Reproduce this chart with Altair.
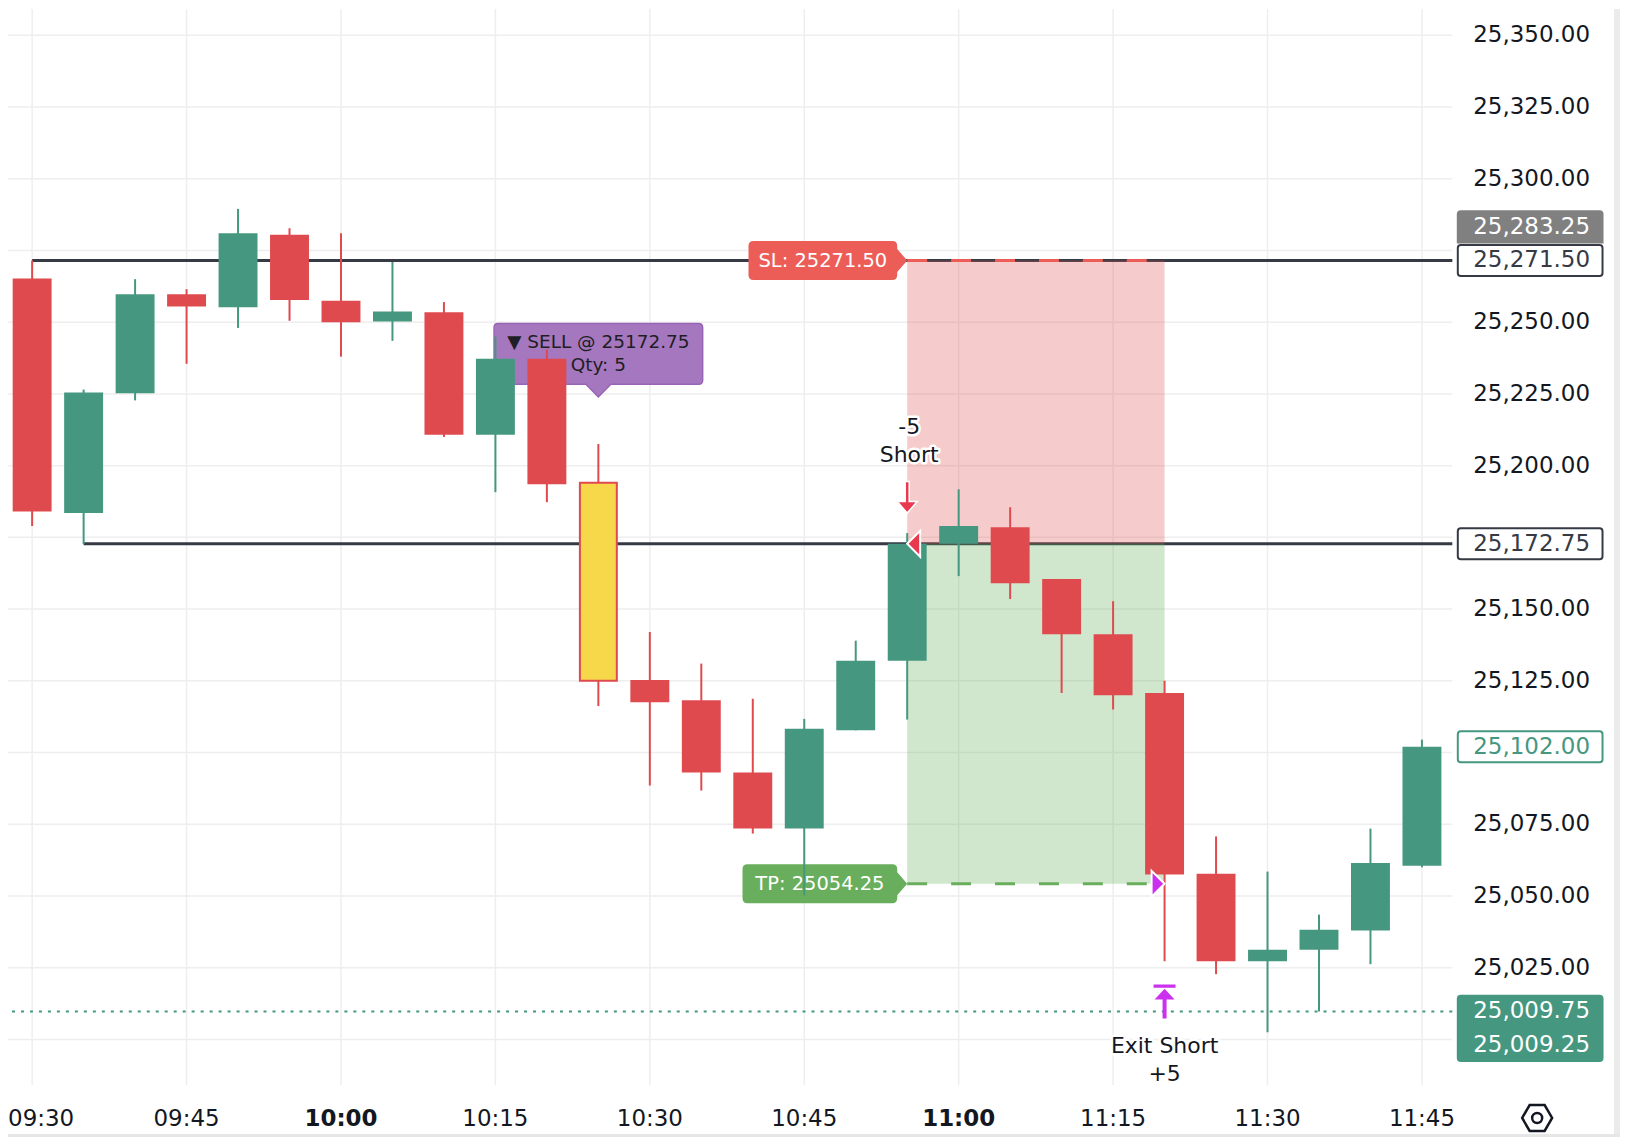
import altair as alt
import pandas as pd

# ---------------- data ----------------
times = ["09:30", "09:35", "09:40", "09:45", "09:50", "09:55", "10:00", "10:05", "10:10", "10:15",
         "10:20", "10:25", "10:30", "10:35", "10:40", "10:45", "10:50", "10:55", "11:00", "11:05",
         "11:10", "11:15", "11:20", "11:25", "11:30", "11:35", "11:40", "11:45"]
opens = [25265.25, 25183.50, 25225.25, 25259.75, 25255.25, 25280.50, 25257.50, 25250.25, 25253.50, 25210.75,
         25237.25, 25194.00, 25125.25, 25118.25, 25093.00, 25073.50, 25107.75, 25132.00, 25172.75, 25178.50,
         25160.50, 25141.25, 25120.75, 25057.75, 25027.25, 25031.25, 25038.00, 25060.50]
highs = [25271.50, 25226.50, 25265.00, 25261.50, 25289.50, 25282.75, 25281.00, 25271.00, 25257.00, 25245.00,
         25240.50, 25207.50, 25142.00, 25131.00, 25118.75, 25111.75, 25139.00, 25176.50, 25191.75, 25185.50,
         25160.50, 25152.75, 25125.00, 25070.75, 25058.50, 25043.50, 25073.50, 25104.50]
lows = [25179.00, 25172.75, 25222.75, 25235.50, 25248.00, 25250.50, 25238.00, 25243.50, 25210.00, 25190.75,
        25187.25, 25116.25, 25088.50, 25086.75, 25071.75, 25050.25, 25107.75, 25111.50, 25161.50, 25153.50,
        25120.75, 25115.00, 25027.25, 25022.75, 25002.50, 25009.75, 25026.25, 25060.00]
closes = [25184.00, 25225.50, 25259.75, 25255.50, 25281.00, 25257.75, 25250.00, 25253.75, 25210.75, 25237.25,
          25193.50, 25125.00, 25117.50, 25093.00, 25073.50, 25108.25, 25132.00, 25172.75, 25179.00, 25159.00,
          25141.25, 25120.00, 25057.50, 25027.25, 25031.25, 25038.25, 25061.50, 25102.00]

highlight_idx = 11          # yellow signal candle
entry_idx = 17              # short entry candle
exit_idx = 22               # exit candle
entry_price = 25172.75
stop_price = 25271.50
target_price = 25054.25
range_high_price = 25271.50  # horizontal level from first candle
range_low_price = 25172.75   # horizontal level from second candle
dotted_price = 25009.75

sell_lines = ["\u25BC SELL @ 25172.75", "Qty: 5"]
sl_text = "SL: 25271.50"
tp_text = "TP: 25054.25"
entry_texts = ["-5", "Short"]
exit_texts = ["Exit Short", "+5"]

# price scale tags
tag_values = [25283.25, 25271.50, 25172.75, 25102.00, 25009.75, 25009.25]
tag_texts = ["25,283.25", "25,271.50", "25,172.75", "25,102.00", "25,009.75", "25,009.25"]

y_ticks = list(range(25000, 25351, 25))
y_hidden = [25275, 25175, 25100, 25000]      # labels covered by the price tags
x_ticks = [i for i, t in enumerate(times) if t[-2:] in ("00", "15", "30", "45")]
x_tick_labels = [times[i] for i in x_ticks]
bold_labels = [t for t in x_tick_labels if t.endswith(":00")]

# ---------------- layout / style ----------------
W, H = 1447, 1078
X_DOMAIN = [-0.469, 27.59]
Y_DOMAIN = [24984.1, 25359.15]

GREEN = "#46977f"
RED = "#df4a4f"
YELLOW = "#f7d84b"
DARK = "#363a45"
TEXT = "#131722"
SL_RED = "#ec5d58"
TP_GREEN = "#68ae5c"
PURPLE = "#a577be"
MAGENTA = "#cb30ef"
ARROW_RED = "#e8394e"
GRID = "#eeeeee"
FONT = "DejaVu Sans"

xs = alt.Scale(domain=X_DOMAIN, nice=False, zero=False, padding=0)
ys = alt.Scale(domain=Y_DOMAIN, nice=False, zero=False, padding=0)

candles = pd.DataFrame({"idx": list(range(len(times))), "time": times, "open": opens,
                        "high": highs, "low": lows, "close": closes})
candles["kind"] = ["hl" if i == highlight_idx else ("up" if c >= o else "down")
                   for i, (o, c) in enumerate(zip(opens, closes))]


def X(field="idx"):
    return alt.X(f"{field}:Q", scale=xs, axis=None)


def Y(field):
    return alt.Y(f"{field}:Q", scale=ys, axis=None)


one = pd.DataFrame({"k": [0]})

# ---- grid + axis labels (from tick arrays, through the scales) ----
ygrid_df = pd.DataFrame({"v": y_ticks})
xgrid_df = pd.DataFrame({"v": x_ticks})
grid_y = alt.Chart(ygrid_df).mark_rule(color=GRID, strokeWidth=1.5).encode(y=Y("v"))
grid_x = alt.Chart(xgrid_df).mark_rule(color=GRID, strokeWidth=1.5).encode(x=X("v"))

ylab_df = pd.DataFrame({"v": [v for v in y_ticks if v not in y_hidden]})
ylabels = alt.Chart(ylab_df).mark_text(font=FONT, fontSize=23, color=TEXT, align="left",
                                       baseline="middle").encode(
    x=alt.value(W + 21), y=Y("v"), text=alt.Text("v:Q", format=",.2f"))

xlab_df = pd.DataFrame({"v": x_ticks, "t": x_tick_labels})
xlab_df["bold"] = xlab_df["t"].isin(bold_labels)
first_lab = xlab_df.iloc[:1]
rest_lab = xlab_df.iloc[1:]
xlabels_first = alt.Chart(first_lab).mark_text(
    font=FONT, fontSize=23, color=TEXT, align="center", baseline="middle", dx=9).encode(
    x=X("v"), y=alt.value(H + 34), text="t:N")
xlabels_n = alt.Chart(rest_lab[~rest_lab["bold"]]).mark_text(
    font=FONT, fontSize=23, color=TEXT, align="center", baseline="middle").encode(
    x=X("v"), y=alt.value(H + 34), text="t:N")
xlabels_b = alt.Chart(rest_lab[rest_lab["bold"]]).mark_text(
    font=FONT, fontSize=23, color=TEXT, align="center", baseline="middle", fontWeight="bold").encode(
    x=X("v"), y=alt.value(H + 34), text="t:N")

# ---- level lines ----
levels = pd.DataFrame({"x": [0, 1], "x2": [X_DOMAIN[1], X_DOMAIN[1]],
                       "p": [range_high_price, range_low_price]})
level_layer = alt.Chart(levels).mark_rule(color=DARK, strokeWidth=3).encode(
    x=X("x"), x2="x2:Q", y=Y("p"))

dotted_layer = alt.Chart(pd.DataFrame({"p": [dotted_price]})).mark_rule(
    color=GREEN, strokeWidth=2, strokeDash=[3, 6]).encode(y=Y("p"))

zones = pd.DataFrame({"x": [entry_idx, entry_idx], "x2": [exit_idx, exit_idx],
                      "p": [entry_price, target_price], "p2": [stop_price, entry_price],
                      "c": ["#de5552", "#62ac58"]})
zone_layer = alt.Chart(zones).mark_rect(opacity=0.3).encode(
    x=X("x"), x2="x2:Q", y=Y("p"), y2="p2:Q", color=alt.Color("c:N", scale=None))

dash_df = pd.DataFrame({"x": [entry_idx, entry_idx], "x2": [exit_idx, exit_idx],
                        "p": [stop_price, target_price], "c": [SL_RED, TP_GREEN]})
dash_layer = alt.Chart(dash_df).mark_rule(strokeWidth=3, strokeDash=[20, 24]).encode(
    x=X("x"), x2="x2:Q", y=Y("p"), color=alt.Color("c:N", scale=None))


def shape_layer(df, x, y, path, fill=None, stroke=None, sw=0.0):
    kw = dict(shape=path, size=4, opacity=1, strokeWidth=sw)
    if fill is None:
        kw["filled"] = False
        kw["fill"] = "transparent"
    else:
        kw["filled"] = True
        kw["fill"] = fill
    if stroke is not None:
        kw["stroke"] = stroke
    return alt.Chart(df).mark_point(**kw).encode(x=x, y=y)


def text_layer(df, x, y, text, size, color, dx=0, dy=0, weight="normal", align="center", halo=False):
    base = dict(text=text, font=FONT, fontSize=size, align=align, baseline="middle",
                dx=dx, dy=dy, fontWeight=weight)
    layers = []
    if halo:
        layers.append(alt.Chart(df).mark_text(fill="white", stroke="white", strokeWidth=5,
                                              strokeJoin="round", **base).encode(x=x, y=y))
    layers.append(alt.Chart(df).mark_text(fill=color, **base).encode(x=x, y=y))
    return layers


sl_df = pd.DataFrame({"idx": [entry_idx], "p": [stop_price]})
tp_df = pd.DataFrame({"idx": [entry_idx], "p": [target_price]})
SL_PATH = ("M -154 -19.5 L -15 -19.5 Q -10 -19.5 -10 -14.5 L -10 -11.5 L 0 0 L -10 11.5 "
           "L -10 14.5 Q -10 19.5 -15 19.5 L -154 19.5 Q -159 19.5 -159 14.5 L -159 -14.5 "
           "Q -159 -19.5 -154 -19.5 Z")
TP_PATH = ("M -160 -19.5 L -15 -19.5 Q -10 -19.5 -10 -14.5 L -10 -11.5 L 0 0 L -10 11.5 "
           "L -10 14.5 Q -10 19.5 -15 19.5 L -160 19.5 Q -165 19.5 -165 14.5 L -165 -14.5 "
           "Q -165 -19.5 -160 -19.5 Z")
sl_shape = shape_layer(sl_df, X(), Y("p"), SL_PATH, fill=SL_RED)
tp_shape = shape_layer(tp_df, X(), Y("p"), TP_PATH, fill=TP_GREEN)
sl_txt = text_layer(sl_df, X(), Y("p"), sl_text, 19.5, "white", dx=-84.5)
tp_txt = text_layer(tp_df, X(), Y("p"), tp_text, 19.5, "white", dx=-87.5)

sell_df = candles[candles["idx"] == highlight_idx][["idx", "high"]]
SELL_PATH = ("M -100.5 -120.8 L 100.5 -120.8 Q 104.5 -120.8 104.5 -116.8 L 104.5 -64 "
             "Q 104.5 -60 100.5 -60 L 12.5 -60 L 0 -47.3 L -12.5 -60 L -100.5 -60 "
             "Q -104.5 -60 -104.5 -64 L -104.5 -116.8 Q -104.5 -120.8 -100.5 -120.8 Z")
sell_shape = shape_layer(sell_df, X(), Y("high"), SELL_PATH, fill=PURPLE, stroke="#9a64b6", sw=1.5)
sell_txt = (text_layer(sell_df, X(), Y("high"), sell_lines[0], 18.5, "#1e1e24", dy=-102.3)
            + text_layer(sell_df, X(), Y("high"), sell_lines[1], 18.5, "#1e1e24", dy=-79.7))

# ---- candles ----
wick_layer = alt.Chart(candles).mark_rule(strokeWidth=2).encode(
    x=X(), y=Y("low"), y2="high:Q",
    color=alt.Color("kind:N", scale=alt.Scale(domain=["up", "down", "hl"],
                                              range=[GREEN, RED, RED]), legend=None))
body_layer = alt.Chart(candles).transform_filter(f"datum.idx != {highlight_idx}").mark_bar(width=39).encode(
    x=X(), y=Y("open"), y2="close:Q",
    color=alt.Color("kind:N", scale=alt.Scale(domain=["up", "down", "hl"],
                                              range=[GREEN, RED, YELLOW]), legend=None))
hl_layer = alt.Chart(candles).transform_filter(f"datum.idx == {highlight_idx}").mark_bar(
    width=37, fill=YELLOW, stroke=RED, strokeWidth=2).encode(x=X(), y=Y("open"), y2="close:Q")

# ---- markers ----
entry_high_df = candles[candles["idx"] == entry_idx][["idx", "high"]]
entry_df = pd.DataFrame({"idx": [entry_idx], "p": [entry_price]})
exit_df = pd.DataFrame({"idx": [exit_idx], "p": [target_price]})
exit_low_df = candles[candles["idx"] == exit_idx][["idx", "low"]]

DOWN_ARROW = "M -2 -51.6 L 2 -51.6 L 2 -31.6 L 10 -31.6 L 0 -20 L -10 -31.6 L -2 -31.6 Z"
LEFT_TRI = "M 0 0 L 13 -13 L 13 13 Z"
RIGHT_TRI = "M 0 0 L -13 -13 L -13 13 Z"
UP_ARROW = ("M -11 23.3 L 11 23.3 L 11 26.6 L -11 26.6 Z "
            "M 0 27.6 L 10 38.3 L 2 38.3 L 2 57.3 L -2 57.3 L -2 38.3 L -10 38.3 Z")

markers = [
    shape_layer(entry_high_df, X(), Y("high"), DOWN_ARROW, fill=ARROW_RED, stroke="white", sw=1.5),
    shape_layer(entry_df, X(), Y("p"), LEFT_TRI, fill=ARROW_RED, stroke="white", sw=2),
    shape_layer(exit_df, X(), Y("p"), RIGHT_TRI, fill=MAGENTA, stroke="white", sw=2),
    shape_layer(exit_low_df, X(), Y("low"), UP_ARROW, fill=MAGENTA),
]
ann_txt = (text_layer(entry_high_df, X(), Y("high"), entry_texts[0], 22, TEXT, dx=2, dy=-105.9, halo=True)
           + text_layer(entry_high_df, X(), Y("high"), entry_texts[1], 22, TEXT, dx=2, dy=-78.6, halo=True)
           + text_layer(exit_low_df, X(), Y("low"), exit_texts[0], 22, TEXT, dy=85, halo=True)
           + text_layer(exit_low_df, X(), Y("low"), exit_texts[1], 22, TEXT, dy=113, halo=True))

# ---- price-scale tags ----
TAG_X = W + 78
TXT_X = W + 21
GREY_TAG = ("M -69.5 -16.7 L 69.5 -16.7 Q 73.5 -16.7 73.5 -12.7 L 73.5 16.7 L -73.5 16.7 "
            "L -73.5 -12.7 Q -73.5 -16.7 -69.5 -16.7 Z")
BOX_TAG = ("M -69.5 -15.5 L 69.5 -15.5 Q 72.5 -15.5 72.5 -12.5 L 72.5 12.5 Q 72.5 15.5 69.5 15.5 "
           "L -69.5 15.5 Q -72.5 15.5 -72.5 12.5 L -72.5 -12.5 Q -72.5 -15.5 -69.5 -15.5 Z")
TEAL_TAG = ("M -69.5 -16.7 L 69.5 -16.7 Q 73.5 -16.7 73.5 -12.7 L 73.5 46.6 Q 73.5 50.6 69.5 50.6 "
            "L -69.5 50.6 Q -73.5 50.6 -73.5 46.6 L -73.5 -12.7 Q -73.5 -16.7 -69.5 -16.7 Z")


def tag_df(i):
    return pd.DataFrame({"p": [tag_values[i]], "t": [tag_texts[i]]})


tags = [
    shape_layer(tag_df(0), alt.value(TAG_X), Y("p"), GREY_TAG, fill="#808080"),
    shape_layer(tag_df(1), alt.value(TAG_X), Y("p"), BOX_TAG, fill="white", stroke=DARK, sw=2),
    shape_layer(tag_df(2), alt.value(TAG_X), Y("p"), BOX_TAG, fill="white", stroke=DARK, sw=2),
    shape_layer(tag_df(3), alt.value(TAG_X), Y("p"), BOX_TAG, fill="white", stroke=GREEN, sw=2),
    shape_layer(tag_df(4), alt.value(TAG_X), Y("p"), TEAL_TAG, fill=GREEN),
]
tag_colors = ["white", DARK, DARK, GREEN, "white", "white"]
tag_txt = []
for i in range(len(tag_values)):
    dy = 33.3 if i == 5 else 0
    dfi = tag_df(4) if i == 5 else tag_df(i)
    tag_txt += text_layer(dfi, alt.value(TXT_X), Y("p"), tag_texts[i], 23, tag_colors[i],
                          dy=dy, align="left")

GEAR = ("M -15 0 L -7.5 -13 L 7.5 -13 L 15 0 L 7.5 13 L -7.5 13 Z "
        "M 5 0 A 5 5 0 1 0 -5 0 A 5 5 0 1 0 5 0 Z")
gear = shape_layer(one, alt.value(W + 85), alt.value(H + 33), GEAR, fill=None, stroke=TEXT, sw=2.5)
strip = alt.Chart(one).mark_rect(color="#ebebeb").encode(
    x=alt.value(W + 162), x2=alt.value(W + 168), y=alt.value(0), y2=alt.value(H + 52))
bottom_line = alt.Chart(one).mark_rule(color="#e6e6e6", strokeWidth=3).encode(
    x=alt.value(0), x2=alt.value(W + 168), y=alt.value(H + 50.5))

layers = ([grid_y, grid_x, ylabels, xlabels_first, xlabels_n, xlabels_b,
           level_layer, dotted_layer, zone_layer, dash_layer, sl_shape, tp_shape] + sl_txt + tp_txt
          + [sell_shape] + sell_txt + [wick_layer, body_layer, hl_layer] + markers + ann_txt
          + tags + tag_txt + [gear, strip, bottom_line])

chart = alt.layer(*layers).properties(
    width=W, height=H,
    autosize=alt.AutoSizeParams(type="none"),
    padding={"left": 0, "top": 0, "right": 168, "bottom": 52},
    background="white",
).configure_view(stroke=None)

chart.save("out.html", embed_options={"renderer": "svg", "actions": False})
